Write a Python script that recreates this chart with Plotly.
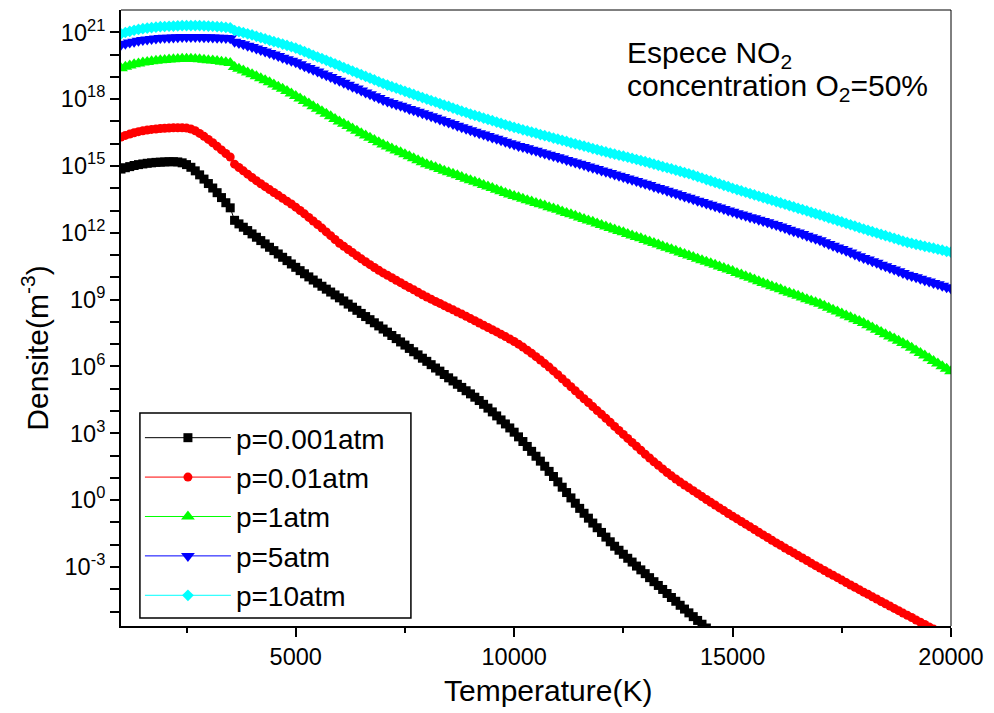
import numpy as np
import plotly.graph_objects as go

# Temperature grid (K), 100 K steps
temperature_K = np.arange(1000, 20001, 100)

# log10 of NO2 number density (m^-3) for each pressure
log_n_p0001 = [
    14.86, 14.92, 14.97, 15.02, 15.06, 15.09, 15.12, 15.14, 15.16, 15.17,
    15.18, 15.19, 15.19, 15.18, 15.14, 15.06, 14.94, 14.78, 14.60, 14.41,
    14.21, 14.01, 13.80, 13.58, 13.35, 13.12, 12.56, 12.40, 12.25, 12.10,
    11.95, 11.80, 11.65, 11.50, 11.35, 11.20, 11.05, 10.90, 10.75, 10.60,
    10.45, 10.30, 10.16, 10.02, 9.88, 9.74, 9.60, 9.47, 9.34, 9.21,
    9.08, 8.94, 8.80, 8.66, 8.52, 8.38, 8.24, 8.10, 7.96, 7.82,
    7.68, 7.54, 7.39, 7.25, 7.10, 6.96, 6.81, 6.66, 6.52, 6.37,
    6.23, 6.08, 5.93, 5.79, 5.64, 5.49, 5.35, 5.20, 5.06, 4.91,
    4.77, 4.62, 4.47, 4.30, 4.13, 3.96, 3.78, 3.60, 3.42, 3.24,
    3.05, 2.84, 2.63, 2.41, 2.19, 1.97, 1.75, 1.52, 1.29, 1.06,
    0.82, 0.58, 0.34, 0.10, -0.14, -0.37, -0.59, -0.81, -1.03, -1.24,
    -1.45, -1.66, -1.87, -2.07, -2.25, -2.43, -2.61, -2.78, -2.96, -3.13,
    -3.30, -3.48, -3.66, -3.83, -4.01, -4.19, -4.37, -4.54, -4.72, -4.89,
    -5.06, -5.23, -5.40, -5.57, -5.74, -5.91,
]
log_n_p001 = [
    16.30, 16.37, 16.43, 16.49, 16.54, 16.58, 16.61, 16.64, 16.66, 16.68,
    16.69, 16.70, 16.71, 16.71, 16.71, 16.70, 16.66, 16.58, 16.46, 16.33,
    16.19, 16.04, 15.88, 15.72, 15.56, 15.40, 15.08, 14.93, 14.78, 14.63,
    14.48, 14.34, 14.20, 14.07, 13.94, 13.81, 13.68, 13.55, 13.42, 13.29,
    13.15, 13.00, 12.85, 12.69, 12.53, 12.37, 12.21, 12.04, 11.87, 11.70,
    11.53, 11.39, 11.25, 11.11, 10.97, 10.83, 10.70, 10.57, 10.44, 10.32,
    10.20, 10.09, 9.98, 9.87, 9.76, 9.65, 9.54, 9.44, 9.33, 9.22,
    9.12, 9.02, 8.92, 8.83, 8.73, 8.63, 8.54, 8.44, 8.35, 8.25,
    8.15, 8.05, 7.95, 7.85, 7.75, 7.65, 7.55, 7.44, 7.34, 7.23,
    7.12, 7.00, 6.87, 6.73, 6.59, 6.44, 6.29, 6.13, 5.97, 5.80,
    5.63, 5.45, 5.27, 5.09, 4.91, 4.73, 4.55, 4.38, 4.20, 4.02,
    3.85, 3.67, 3.49, 3.31, 3.13, 2.95, 2.77, 2.59, 2.42, 2.24,
    2.06, 1.89, 1.72, 1.56, 1.40, 1.24, 1.09, 0.95, 0.81, 0.68,
    0.55, 0.42, 0.29, 0.16, 0.03, -0.10, -0.22, -0.35, -0.47, -0.60,
    -0.72, -0.84, -0.96, -1.08, -1.20, -1.32, -1.44, -1.56, -1.68, -1.80,
    -1.92, -2.03, -2.15, -2.26, -2.37, -2.49, -2.60, -2.71, -2.83, -2.94,
    -3.05, -3.16, -3.27, -3.37, -3.48, -3.59, -3.70, -3.81, -3.91, -4.02,
    -4.13, -4.23, -4.34, -4.44, -4.55, -4.65, -4.75, -4.86, -4.96, -5.07,
    -5.17, -5.27, -5.38, -5.48, -5.58, -5.69, -5.79,
]
log_n_p1 = [
    19.39, 19.45, 19.51, 19.56, 19.60, 19.64, 19.67, 19.70, 19.72, 19.74,
    19.76, 19.78, 19.79, 19.80, 19.81, 19.81, 19.81, 19.80, 19.79, 19.77,
    19.75, 19.73, 19.71, 19.68, 19.65, 19.62, 19.44, 19.36, 19.28, 19.20,
    19.12, 19.03, 18.94, 18.85, 18.76, 18.66, 18.56, 18.46, 18.36, 18.25,
    18.14, 18.03, 17.91, 17.80, 17.68, 17.57, 17.46, 17.34, 17.23, 17.11,
    17.00, 16.89, 16.79, 16.68, 16.58, 16.47, 16.37, 16.27, 16.16, 16.06,
    15.96, 15.87, 15.78, 15.69, 15.61, 15.52, 15.43, 15.34, 15.26, 15.17,
    15.08, 15.01, 14.94, 14.86, 14.79, 14.72, 14.65, 14.58, 14.50, 14.43,
    14.36, 14.29, 14.22, 14.15, 14.08, 14.01, 13.93, 13.86, 13.79, 13.72,
    13.65, 13.59, 13.53, 13.46, 13.40, 13.34, 13.28, 13.22, 13.15, 13.09,
    13.03, 12.96, 12.89, 12.83, 12.76, 12.69, 12.62, 12.55, 12.49, 12.42,
    12.35, 12.28, 12.22, 12.15, 12.08, 12.02, 11.95, 11.88, 11.81, 11.75,
    11.68, 11.61, 11.54, 11.47, 11.40, 11.33, 11.26, 11.19, 11.12, 11.05,
    10.98, 10.91, 10.84, 10.77, 10.70, 10.63, 10.56, 10.49, 10.42, 10.35,
    10.28, 10.20, 10.13, 10.05, 9.98, 9.90, 9.83, 9.75, 9.68, 9.60,
    9.53, 9.46, 9.38, 9.31, 9.24, 9.17, 9.10, 9.02, 8.95, 8.88,
    8.81, 8.72, 8.64, 8.55, 8.47, 8.38, 8.29, 8.21, 8.12, 8.04,
    7.95, 7.85, 7.75, 7.65, 7.55, 7.45, 7.35, 7.25, 7.15, 7.05,
    6.95, 6.84, 6.72, 6.60, 6.49, 6.37, 6.25, 6.13, 6.01, 5.90,
    5.78,
]
log_n_p5 = [
    20.44, 20.49, 20.54, 20.58, 20.62, 20.65, 20.68, 20.70, 20.72, 20.74,
    20.75, 20.76, 20.77, 20.78, 20.79, 20.79, 20.79, 20.79, 20.79, 20.78,
    20.78, 20.77, 20.76, 20.75, 20.74, 20.73, 20.58, 20.52, 20.46, 20.40,
    20.34, 20.27, 20.21, 20.14, 20.07, 20.00, 19.93, 19.86, 19.79, 19.72,
    19.65, 19.57, 19.48, 19.40, 19.32, 19.24, 19.15, 19.07, 18.99, 18.90,
    18.82, 18.73, 18.65, 18.56, 18.48, 18.39, 18.30, 18.22, 18.13, 18.05,
    17.96, 17.89, 17.83, 17.76, 17.70, 17.63, 17.56, 17.50, 17.43, 17.37,
    17.30, 17.23, 17.16, 17.09, 17.02, 16.95, 16.88, 16.81, 16.74, 16.67,
    16.60, 16.54, 16.47, 16.41, 16.34, 16.28, 16.22, 16.15, 16.09, 16.02,
    15.96, 15.90, 15.85, 15.79, 15.73, 15.68, 15.62, 15.56, 15.50, 15.45,
    15.39, 15.33, 15.27, 15.21, 15.15, 15.10, 15.04, 14.98, 14.92, 14.86,
    14.80, 14.74, 14.68, 14.62, 14.56, 14.50, 14.44, 14.38, 14.32, 14.26,
    14.20, 14.14, 14.07, 14.01, 13.95, 13.89, 13.82, 13.76, 13.70, 13.63,
    13.57, 13.51, 13.44, 13.38, 13.32, 13.26, 13.19, 13.13, 13.07, 13.00,
    12.94, 12.88, 12.82, 12.76, 12.70, 12.65, 12.59, 12.53, 12.47, 12.41,
    12.35, 12.28, 12.21, 12.14, 12.07, 12.01, 11.94, 11.87, 11.80, 11.73,
    11.66, 11.58, 11.50, 11.42, 11.34, 11.27, 11.19, 11.11, 11.03, 10.95,
    10.87, 10.80, 10.72, 10.65, 10.57, 10.50, 10.42, 10.35, 10.27, 10.20,
    10.12, 10.06, 10.00, 9.94, 9.87, 9.81, 9.75, 9.69, 9.62, 9.56,
    9.50,
]
log_n_p10 = [
    20.93, 20.99, 21.04, 21.09, 21.13, 21.16, 21.19, 21.21, 21.23, 21.25,
    21.26, 21.27, 21.28, 21.29, 21.30, 21.30, 21.30, 21.30, 21.30, 21.29,
    21.28, 21.27, 21.25, 21.24, 21.22, 21.20, 21.08, 21.03, 20.98, 20.93,
    20.88, 20.82, 20.76, 20.70, 20.64, 20.58, 20.53, 20.47, 20.41, 20.35,
    20.29, 20.21, 20.13, 20.05, 19.97, 19.89, 19.82, 19.74, 19.66, 19.58,
    19.50, 19.42, 19.34, 19.26, 19.18, 19.10, 19.02, 18.94, 18.86, 18.78,
    18.70, 18.63, 18.56, 18.49, 18.42, 18.35, 18.28, 18.21, 18.14, 18.07,
    18.00, 17.93, 17.87, 17.80, 17.73, 17.67, 17.60, 17.53, 17.46, 17.40,
    17.33, 17.27, 17.21, 17.15, 17.09, 17.03, 16.97, 16.91, 16.85, 16.79,
    16.73, 16.68, 16.62, 16.57, 16.52, 16.47, 16.41, 16.36, 16.31, 16.25,
    16.20, 16.15, 16.10, 16.04, 15.99, 15.94, 15.89, 15.84, 15.78, 15.73,
    15.68, 15.63, 15.58, 15.53, 15.48, 15.44, 15.39, 15.34, 15.29, 15.24,
    15.19, 15.14, 15.08, 15.03, 14.97, 14.92, 14.87, 14.81, 14.76, 14.70,
    14.65, 14.59, 14.52, 14.46, 14.39, 14.33, 14.26, 14.20, 14.13, 14.07,
    14.00, 13.94, 13.88, 13.82, 13.76, 13.70, 13.64, 13.58, 13.52, 13.46,
    13.40, 13.34, 13.28, 13.22, 13.16, 13.10, 13.04, 12.98, 12.92, 12.86,
    12.80, 12.74, 12.67, 12.61, 12.55, 12.49, 12.42, 12.36, 12.30, 12.23,
    12.17, 12.11, 12.05, 11.99, 11.93, 11.87, 11.81, 11.75, 11.69, 11.63,
    11.57, 11.53, 11.48, 11.44, 11.39, 11.35, 11.31, 11.26, 11.22, 11.17,
    11.13,
]

series_names = ["p=0.001atm", "p=0.01atm", "p=1atm", "p=5atm", "p=10atm"]
series_logs = [log_n_p0001, log_n_p001, log_n_p1, log_n_p5, log_n_p10]
series_colors = ["#000000", "#ff0000", "#00ff00", "#0000ff", "#00ffff"]
series_symbols = ["square", "circle", "triangle-up", "triangle-down", "diamond"]
series_sizes = [9, 9, 12, 12, 9]

# Axis ticks
x_major = [5000, 10000, 15000, 20000]
x_minor = [2500, 7500, 12500, 17500]
y_labelled = list(range(-3, 22, 3))
y_unlabelled = [k for k in range(-5, 22) if k not in y_labelled]
y_half_decades = list(range(-6, 22))

FONT = "Liberation Sans, Arial, sans-serif"
Y_RANGE = [-5.65, 22]

fig = go.Figure()
for name, logs, color, symbol, size in zip(
        series_names, series_logs, series_colors, series_symbols, series_sizes):
    fig.add_trace(go.Scatter(
        x=temperature_K[:len(logs)],
        y=10.0 ** np.array(logs),
        mode="lines+markers",
        name=name,
        line=dict(color=color, width=1),
        marker=dict(symbol=symbol, size=size, color=color, line=dict(width=0)),
    ))

tick_style = dict(ticks="outside", tickwidth=2, tickcolor="black")

fig.update_layout(
    width=994,
    height=713,
    margin=dict(l=121, r=40, t=10, b=87),
    paper_bgcolor="white",
    plot_bgcolor="white",
    font=dict(family=FONT, color="black"),
    showlegend=True,
    legend=dict(
        x=0.0228, y=0.3458, xanchor="left", yanchor="top",
        bgcolor="rgba(0,0,0,0)", borderwidth=0,
        font=dict(family=FONT, size=28, color="black"),
        itemwidth=86,
        tracegroupgap=0,
    ),
    xaxis=dict(
        range=[1000, 20000],
        showline=True, linewidth=2, linecolor="black", mirror=False,
        showgrid=False, zeroline=False,
        ticklen=9, **tick_style,
        tickmode="array", tickvals=x_major, ticktext=[str(v) for v in x_major],
        tickfont=dict(family=FONT, size=23.5, color="black"),
        minor=dict(tickmode="array", tickvals=x_minor, ticklen=5,
                   showgrid=False, **tick_style),
    ),
    # labelled decades every 3, with the remaining decades as equal-length ticks
    yaxis=dict(
        type="log",
        range=Y_RANGE,
        showline=True, linewidth=2, linecolor="black", mirror=False,
        showgrid=False, zeroline=False,
        ticklen=9, **tick_style,
        tickmode="array",
        tickvals=[10.0 ** k for k in y_labelled],
        ticktext=["10<sup>%d</sup>" % k for k in y_labelled],
        tickfont=dict(family=FONT, size=23.5, color="black"),
        minor=dict(tickmode="array", tickvals=[10.0 ** k for k in y_unlabelled],
                   ticklen=9, showgrid=False, **tick_style),
    ),
    # short ticks at 5 x 10^n
    yaxis2=dict(
        type="log",
        range=Y_RANGE,
        overlaying="y", anchor="x", side="left",
        showline=False, showgrid=False, zeroline=False, showticklabels=False,
        ticklen=5, **tick_style,
        tickmode="array",
        tickvals=[5 * 10.0 ** k for k in y_half_decades],
    ),
    shapes=[
        # thin top and right frame
        dict(type="line", xref="paper", yref="paper", x0=0, x1=1, y0=1, y1=1,
             line=dict(color="black", width=1)),
        dict(type="line", xref="paper", yref="paper", x0=1, x1=1, y0=0, y1=1,
             line=dict(color="black", width=1)),
        # legend frame
        dict(type="rect", xref="paper", yref="paper", layer="above",
             x0=0.0228, x1=0.3493, y0=0.013, y1=0.3458,
             fillcolor="white", line=dict(color="black", width=1.5)),
    ],
    annotations=[
        dict(text="Temperature(K)", xref="paper", yref="paper", x=0.514, y=-0.104,
             xanchor="center", yanchor="middle", showarrow=False,
             font=dict(family=FONT, size=30, color="black")),
        dict(text="Densite(m<sup>-3</sup>)", xref="paper", yref="paper",
             x=-0.103, y=0.451, textangle=-90,
             xanchor="center", yanchor="middle", showarrow=False,
             font=dict(family=FONT, size=30, color="black")),
        dict(text="Espece NO<sub>2</sub>", xref="paper", yref="paper",
             x=0.6074, y=0.927, xanchor="left", yanchor="middle", showarrow=False,
             font=dict(family=FONT, size=30, color="black")),
        dict(text="concentration O<sub>2</sub>=50%", xref="paper", yref="paper",
             x=0.6074, y=0.874, xanchor="left", yanchor="middle", showarrow=False,
             font=dict(family=FONT, size=30, color="black")),
    ],
)

fig.write_html("out.html")
